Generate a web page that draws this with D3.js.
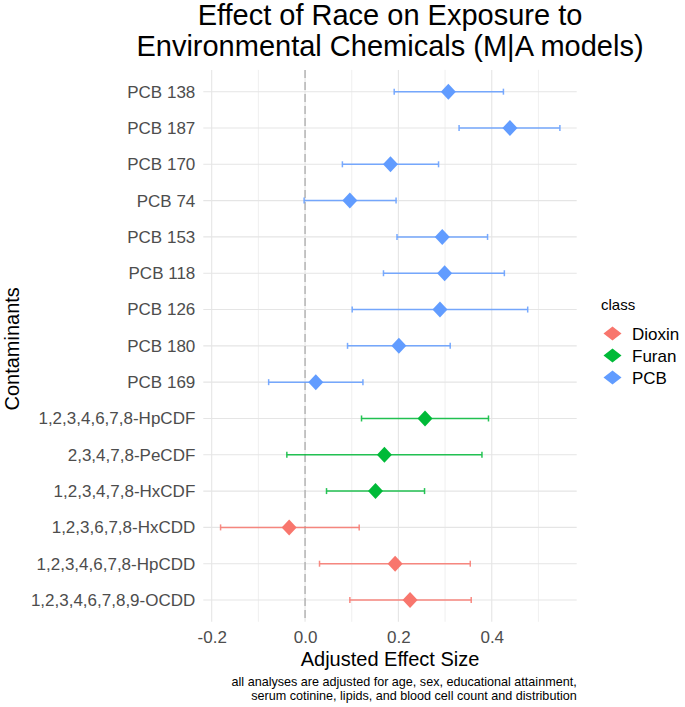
<!DOCTYPE html>
<html>
<head>
<meta charset="utf-8">
<script src="https://cdn.jsdelivr.net/npm/d3@7"></script>
<style>
  body { margin: 0; background: #fff; }
  svg { display: block; font-family: "Liberation Sans", Arial, Helvetica, sans-serif; }
</style>
</head>
<body>
<svg id="chart" width="685" height="707"></svg>
<script>
// ---- data ----
const contaminants = ["PCB 138","PCB 187","PCB 170","PCB 74","PCB 153","PCB 118","PCB 126","PCB 180","PCB 169",
  "1,2,3,4,6,7,8-HpCDF","2,3,4,7,8-PeCDF","1,2,3,4,7,8-HxCDF","1,2,3,6,7,8-HxCDD","1,2,3,4,6,7,8-HpCDD","1,2,3,4,6,7,8,9-OCDD"];
const classes = ["PCB","PCB","PCB","PCB","PCB","PCB","PCB","PCB","PCB","Furan","Furan","Furan","Dioxin","Dioxin","Dioxin"];
const estimates = [0.307,0.439,0.183,0.096,0.294,0.299,0.289,0.201,0.023,0.257,0.170,0.151,-0.034,0.193,0.225];
const lower =     [0.191,0.330,0.080,-0.002,0.197,0.168,0.101,0.091,-0.078,0.121,-0.039,0.046,-0.181,0.031,0.096];
const upper =     [0.425,0.546,0.286,0.195,0.391,0.427,0.477,0.311,0.124,0.393,0.379,0.256,0.116,0.354,0.356];
const classNames = ["Dioxin","Furan","PCB"];
const classColors = ["#F8766D","#00BA38","#619CFF"];
const xTicks = [-0.2, 0.0, 0.2, 0.4];
const xMinor = [-0.1, 0.1, 0.3, 0.5];

const rows = contaminants.map((c,i)=>({name:c, cls:classes[i], est:estimates[i], lo:lower[i], hi:upper[i]}));

const svg = d3.select("#chart");
const panel = {left: 203.3, right: 576.7, top: 69.9, bottom: 621.8};

const x = d3.scaleLinear().domain([-0.218, 0.582]).range([panel.left, panel.right]);
const y = d3.scalePoint().domain(contaminants).range([panel.top, panel.bottom]).padding(0.6);
const color = d3.scaleOrdinal().domain(classNames).range(classColors);

// grid
const g = svg.append("g");
g.selectAll(".minor").data(xMinor).join("line")
  .attr("x1", d=>x(d)).attr("x2", d=>x(d)).attr("y1", panel.top).attr("y2", panel.bottom)
  .attr("stroke", "#EBEBEB").attr("stroke-width", 0.8);
g.selectAll(".major").data(xTicks).join("line")
  .attr("x1", d=>x(d)).attr("x2", d=>x(d)).attr("y1", panel.top).attr("y2", panel.bottom)
  .attr("stroke", "#E5E5E5").attr("stroke-width", 1.1);
g.selectAll(".hgrid").data(contaminants).join("line")
  .attr("x1", panel.left).attr("x2", panel.right).attr("y1", d=>y(d)).attr("y2", d=>y(d))
  .attr("stroke", "#E5E5E5").attr("stroke-width", 1.1);

// zero line
g.append("line").attr("x1", x(0)).attr("x2", x(0)).attr("y1", panel.top).attr("y2", panel.bottom)
  .attr("stroke", "#A6A6A6").attr("stroke-width", 1.2).attr("stroke-dasharray", "8,4");

// axes
const xAxis = d3.axisBottom(x).tickValues(xTicks).tickFormat(d => d.toFixed(1)).tickSize(0).tickPadding(0);
const xa = svg.append("g").attr("transform", `translate(0,${panel.bottom})`).call(xAxis);
xa.select(".domain").remove();
xa.selectAll("text").attr("font-size", 17).attr("fill", "#4D4D4D").attr("dy", "0").attr("y", 21)
  .attr("font-family", "Liberation Sans, Arial, sans-serif");

const yAxis = d3.axisLeft(y).tickSize(0).tickPadding(8);
const ya = svg.append("g").attr("transform", `translate(${panel.left},0)`).call(yAxis);
ya.select(".domain").remove();
ya.selectAll("text").attr("font-size", 17).attr("fill", "#4D4D4D")
  .attr("font-family", "Liberation Sans, Arial, sans-serif");

// error bars
const eb = svg.append("g");
const cap = 3;
rows.forEach(r => {
  const c = color(r.cls);
  const gg = eb.append("g").attr("stroke", c).attr("stroke-width", 1.5).attr("opacity", 0.85);
  gg.append("line").attr("x1", x(r.lo)).attr("x2", x(r.hi)).attr("y1", y(r.name)).attr("y2", y(r.name));
  gg.append("line").attr("x1", x(r.lo)).attr("x2", x(r.lo)).attr("y1", y(r.name)-cap).attr("y2", y(r.name)+cap);
  gg.append("line").attr("x1", x(r.hi)).attr("x2", x(r.hi)).attr("y1", y(r.name)-cap).attr("y2", y(r.name)+cap);
});

// diamonds
const diamond = (cx, cy, w, h) => `M${cx},${cy-h}L${cx+w},${cy}L${cx},${cy+h}L${cx-w},${cy}Z`;
svg.append("g").selectAll("path").data(rows).join("path")
  .attr("d", d => diamond(x(d.est), y(d.name), 7.5, 8))
  .attr("fill", d => color(d.cls));

// title
const title = svg.append("text").attr("text-anchor", "middle").attr("font-size", 29).attr("fill", "#000");
title.append("tspan").attr("x", 390).attr("y", 25).text("Effect of Race on Exposure to");
title.append("tspan").attr("x", 390).attr("y", 56).text("Environmental Chemicals (M|A models)");

// axis titles
svg.append("text").attr("x", 390).attr("y", 666).attr("text-anchor", "middle")
  .attr("font-size", 20).attr("fill", "#000").text("Adjusted Effect Size");
svg.append("text").attr("transform", `translate(19,${(panel.top+panel.bottom)/2 + 3}) rotate(-90)`)
  .attr("text-anchor", "middle").attr("font-size", 20).attr("fill", "#000").text("Contaminants");

// caption
const cap1 = svg.append("text").attr("text-anchor", "end").attr("font-size", 12.6).attr("fill", "#000");
cap1.append("tspan").attr("x", 576.7).attr("y", 686).text("all analyses are adjusted for age, sex, educational attainment,");
cap1.append("tspan").attr("x", 576.7).attr("y", 700).text("serum cotinine, lipids, and blood cell count and distribution");

// legend
const leg = svg.append("g");
leg.append("text").attr("x", 601).attr("y", 310).attr("font-size", 15).attr("fill", "#000").text("class");
classNames.forEach((c, i) => {
  const cy = 333.5 + i * 22;
  leg.append("path").attr("d", diamond(612.5, cy, 9, 7)).attr("fill", classColors[i]);
  leg.append("text").attr("x", 632).attr("y", cy + 6).attr("font-size", 17).attr("fill", "#000").text(c);
});
</script>
</body>
</html>
